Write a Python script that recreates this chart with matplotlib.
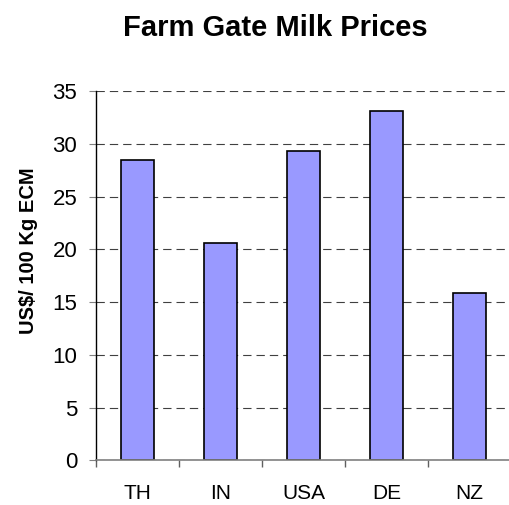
import matplotlib
matplotlib.use("Agg")
import matplotlib.pyplot as plt
import numpy as np

categories = ["TH", "IN", "USA", "DE", "NZ"]
prices = [28.5, 20.6, 29.35, 33.1, 15.85]
yticks = [0, 5, 10, 15, 20, 25, 30, 35]

plt.rcParams['font.family'] = ['Liberation Sans', 'DejaVu Sans']

fig = plt.figure(figsize=(5.1, 5.05), dpi=100)
ax = fig.add_axes([96/510, (505-460.3)/505, 415/510, (460.3-91.3)/505])

x = np.arange(len(categories))
ax.bar(x, prices, width=0.4, color="#9999FF", edgecolor="black", linewidth=1.2, zorder=3)

ax.set_xlim(-0.5, len(categories) - 0.5)
ax.set_ylim(0, 35)
ax.set_yticks(yticks)
ax.set_yticklabels([str(v) for v in yticks], fontsize=16)
ax.set_xticks(x)
ax.set_xticklabels(categories, fontsize=15)
ax.set_xticks(np.arange(-0.5, len(categories) + 0.5, 1), minor=True)
ax.tick_params(axis='x', which='major', length=0, pad=17)
ax.tick_params(axis='x', which='minor', length=5, width=1, color='#606060', direction='out')
ax.tick_params(axis='y', which='major', length=5, width=0.8, color='#808080', pad=8.5, direction='out')

lw = 0.8
ax.grid(axis='y', color='#404040', linewidth=lw, linestyle=(0, (6/lw, 3.6/lw)), zorder=1)
ax.set_axisbelow(True)

for s in ['top', 'right']:
    ax.spines[s].set_visible(False)
ax.spines['left'].set_color('black')
ax.spines['left'].set_linewidth(1)
ax.spines['bottom'].set_color('#808080')
ax.spines['bottom'].set_linewidth(1.2)
ax.spines['left'].set_zorder(4)
ax.spines['bottom'].set_zorder(4)

fig.text(275.5/510, 1 - 36/505, "Farm Gate Milk Prices", fontsize=21, fontweight='bold',
         ha='center', va='baseline')
fig.text(29/510, 1 - 251/505, "US$/ 100 Kg ECM", fontsize=14.5, fontweight='bold',
         ha='center', va='center', rotation=90)

fig.savefig("out.png", dpi=100)
